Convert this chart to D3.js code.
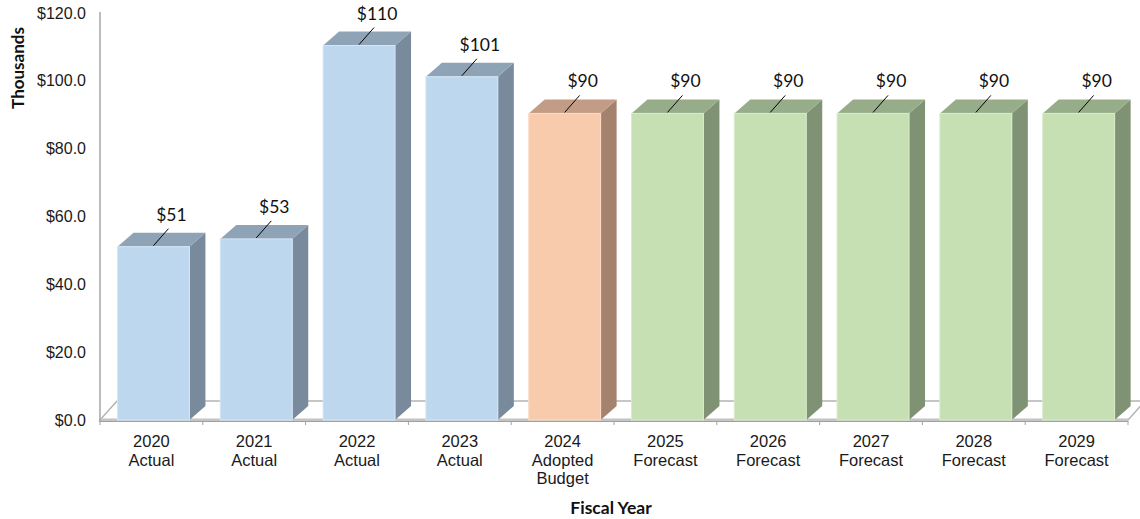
<!DOCTYPE html>
<html>
<head>
<meta charset="utf-8">
<script src="https://cdn.jsdelivr.net/npm/d3@7"></script>
<style>
  html, body { margin: 0; padding: 0; background: #ffffff; }
  svg { display: block; }
</style>
</head>
<body>
<svg id="chart" width="1140" height="519"></svg>
<script>
// ---- data ----
const years = ["2020", "2021", "2022", "2023", "2024", "2025", "2026", "2027", "2028", "2029"];
const kinds = ["Actual", "Actual", "Actual", "Actual", "Adopted Budget", "Forecast", "Forecast", "Forecast", "Forecast", "Forecast"];
const values = [51.1, 53.4, 110.4, 101.2, 90.4, 90.4, 90.4, 90.4, 90.4, 90.4];
const yTicks = [0, 20, 40, 60, 80, 100, 120];
const yTitle = "Thousands";
const xTitle = "Fiscal Year";

// ---- style ----
const palette = {
  "Actual":         { front: "#bdd7ee", top: "#8fa3b6", side: "#788a9b", edge: "#d6e6f5" },
  "Adopted Budget": { front: "#f8cbad", top: "#c39c86", side: "#a4826d", edge: "#fbdcc7" },
  "Forecast":       { front: "#c6e0b4", top: "#97ad89", side: "#7f9273", edge: "#d9ebcc" }
};

const svg = d3.select("#chart");
const left = 100, right = 1128, floorY = 420, topY = 13;
const floorDx = 17, floorDy = -19;
const barDx = 16, barDy = -14;

const x = d3.scaleBand().domain(years).range([left, right]).paddingInner(0).paddingOuter(0);
const y = d3.scaleLinear().domain([0, 120]).range([floorY, topY]);

const data = years.map((yr, i) => ({ year: yr, kind: kinds[i], value: values[i] }));

// floor
const floorPts = [
  [left, floorY], [right, floorY], [right + floorDx, floorY + floorDy], [left + floorDx, floorY + floorDy]
];
svg.append("polygon")
  .attr("points", floorPts.map(p => p.join(",")).join(" "))
  .attr("fill", "#ffffff")
  .attr("stroke", "#b4b4b4")
  .attr("stroke-width", 1.5);
svg.append("rect")
  .attr("x", left).attr("y", floorY - 1.5)
  .attr("width", right - left).attr("height", 3)
  .attr("fill", "#c4c4c4");
svg.append("line")
  .attr("x1", left).attr("x2", right)
  .attr("y1", floorY + 1.5).attr("y2", floorY + 1.5)
  .attr("stroke", "#a0a0a0").attr("stroke-width", 1);

// y axis line
svg.append("line")
  .attr("x1", left).attr("x2", left)
  .attr("y1", 12).attr("y2", floorY + 2)
  .attr("stroke", "#a6a6a6").attr("stroke-width", 1.5);

// y tick labels
const yAxis = d3.axisLeft(y).tickValues(yTicks).tickSize(0).tickPadding(14)
  .tickFormat(d => "$" + d3.format(".1f")(d));
const gy = svg.append("g").attr("transform", `translate(${left},0)`).call(yAxis);
gy.select(".domain").remove();
gy.selectAll("text")
  .attr("font-family", "'Liberation Sans', Arial, sans-serif")
  .attr("font-size", 16).attr("fill", "#1a1a1a");

// x axis ticks & labels
const xAxis = d3.axisBottom(x).tickSize(0).tickFormat("");
const gx = svg.append("g").attr("transform", `translate(0,${floorY})`).call(xAxis);
gx.select(".domain").remove();
const bounds = years.map(yr => x(yr)).concat([right]);
svg.append("g").selectAll("line").data(bounds).join("line")
  .attr("x1", d => d).attr("x2", d => d)
  .attr("y1", floorY + 1).attr("y2", floorY + 5)
  .attr("stroke", "#a0a0a0").attr("stroke-width", 1);

const labels = svg.append("g")
  .attr("font-family", "'Liberation Sans', Arial, sans-serif")
  .attr("font-size", 16.5).attr("fill", "#1a1a1a")
  .attr("text-anchor", "middle");
data.forEach(d => {
  const lines = [d.year].concat(d.kind.split(" "));
  const t = labels.append("text")
    .attr("x", x(d.year) + x.bandwidth() / 2)
    .attr("y", 447);
  lines.forEach((ln, j) => {
    t.append("tspan").attr("x", x(d.year) + x.bandwidth() / 2)
      .attr("dy", j === 0 ? 0 : 18.5).text(ln);
  });
});

// bars
const bw = x.bandwidth();
const off = bw * 0.17, fw = bw * 0.70;
const bars = svg.append("g");
data.forEach(d => {
  const c = palette[d.kind];
  const x0 = x(d.year) + off, x1 = x0 + fw;
  const yt = y(d.value), yb = y(0);
  const g = bars.append("g");
  g.append("polygon")
    .attr("points", [[x1, yt], [x1 + barDx, yt + barDy], [x1 + barDx, yb + barDy], [x1, yb]].map(p => p.join(",")).join(" "))
    .attr("fill", c.side);
  g.append("polygon")
    .attr("points", [[x0, yt], [x1, yt], [x1 + barDx, yt + barDy], [x0 + barDx, yt + barDy]].map(p => p.join(",")).join(" "))
    .attr("fill", c.top);
  g.append("rect")
    .attr("x", x0).attr("y", yt).attr("width", fw).attr("height", yb - yt)
    .attr("fill", c.front)
    .attr("stroke", c.edge).attr("stroke-width", 1);
});

// data labels with leader lines
const dl = svg.append("g");
data.forEach(d => {
  const cx = x(d.year) + off + fw / 2;
  const yt = y(d.value);
  dl.append("line")
    .attr("x1", cx).attr("y1", yt - 1)
    .attr("x2", cx + 15).attr("y2", yt - 18)
    .attr("stroke", "#000").attr("stroke-width", 1);
  dl.append("text")
    .attr("x", cx + 18).attr("y", yt - 26)
    .attr("text-anchor", "middle")
    .attr("font-family", "Lato, 'Open Sans', sans-serif")
    .attr("font-size", 17.5).attr("fill", "#111")
    .text(d3.format("$.0f")(d.value));
});

// axis titles
svg.append("text")
  .attr("x", 611).attr("y", 514)
  .attr("text-anchor", "middle")
  .attr("font-family", "Lato, sans-serif").attr("font-weight", "bold")
  .attr("font-size", 17.5).attr("fill", "#111")
  .text(xTitle);
svg.append("text")
  .attr("transform", "translate(24,68) rotate(-90)")
  .attr("text-anchor", "middle")
  .attr("font-family", "Lato, sans-serif").attr("font-weight", "bold")
  .attr("font-size", 17).attr("fill", "#111")
  .text(yTitle);
</script>
</body>
</html>
